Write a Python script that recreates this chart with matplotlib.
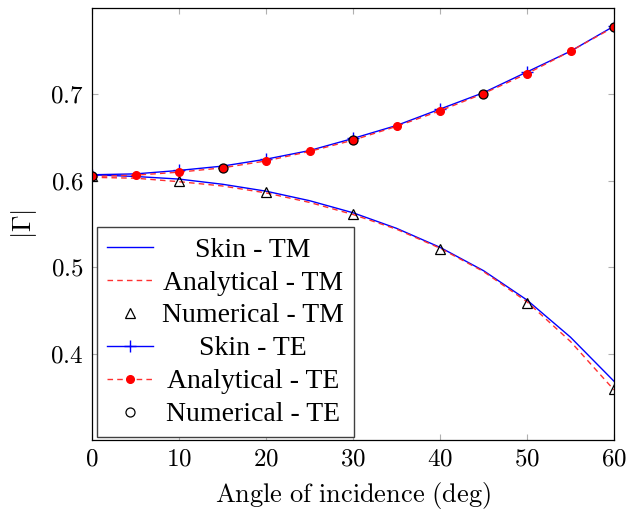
import numpy as np
import matplotlib
matplotlib.use('Agg')
from matplotlib import pyplot as plt

plt.rcParams['font.family'] = ['Liberation Serif', 'DejaVu Serif']
plt.rcParams['mathtext.fontset'] = 'cm'

# angles of incidence (deg)
ang = [0, 5, 10, 15, 20, 25, 30, 35, 40, 45, 50, 55, 60]
ang_num_tm = [0, 10, 20, 30, 40, 50, 60]
ang_num_te = [0, 15, 30, 45, 60]

skin_tm = [0.607, 0.605, 0.602, 0.596, 0.588, 0.577, 0.563, 0.545, 0.523, 0.496, 0.462, 0.419, 0.368]
anal_tm = [0.604, 0.603, 0.599, 0.594, 0.586, 0.575, 0.561, 0.544, 0.522, 0.495, 0.460, 0.414, 0.358]
num_tm = [0.605, 0.600, 0.587, 0.562, 0.521, 0.459, 0.359]

skin_te = [0.607, 0.608, 0.612, 0.617, 0.625, 0.635, 0.649, 0.664, 0.683, 0.702, 0.726, 0.750, 0.779]
anal_te = [0.605, 0.6065, 0.610, 0.615, 0.623, 0.634, 0.647, 0.663, 0.681, 0.701, 0.724, 0.750, 0.778]
num_te = [0.605, 0.615, 0.647, 0.701, 0.778]

fig = plt.figure(figsize=(6.29, 5.12), dpi=100)
ax = fig.add_axes([92/629, 1-440/512, 522/629, 432/512])

ax.plot(ang, skin_tm, color='blue', lw=1, label='Skin - TM')
ax.plot(ang, anal_tm, color='#ff3030', lw=1, ls=(0, (4, 3)), label='Analytical - TM')
ax.plot(ang_num_tm, num_tm, ls='none', marker='^', ms=7, mfc='none', mec='black',
        mew=0.9, label='Numerical - TM')
ax.plot(ang, skin_te, color='blue', lw=1, marker='+', ms=9, mew=1, markevery=2,
        label='Skin - TE')
ax.plot(ang, anal_te, color='#ff3030', lw=1, ls=(0, (4, 3)), marker='o', ms=5.5,
        mfc='red', mec='red', label='Analytical - TE')
ax.plot(ang_num_te, num_te, ls='none', marker='o', ms=6.5, mfc='none', mec='black',
        mew=0.9, label='Numerical - TE')

ax.set_xlim(0, 60)
ax.set_ylim(0.3, 0.8)
ax.set_xticks([0, 10, 20, 30, 40, 50, 60])
ax.set_xticklabels(['$%d$' % v for v in [0, 10, 20, 30, 40, 50, 60]])
ax.set_yticks([0.4, 0.5, 0.6, 0.7])
ax.set_yticklabels(['$%.1f$' % v for v in [0.4, 0.5, 0.6, 0.7]])
ax.tick_params(direction='in', length=4, color='#b0b0b0', labelsize=18,
               top=True, right=True, pad=6)
for s in ax.spines.values():
    s.set_linewidth(0.9)
ax.set_xlabel(r'$\mathrm{Angle\ of\ incidence\ (deg)}$', fontsize=19, labelpad=7)
ax.set_ylabel(r'$|\Gamma|$', fontsize=19, labelpad=8)

leg = ax.legend(loc='lower left', bbox_to_anchor=(5/522, 3/432), borderaxespad=0,
                fontsize=20, fancybox=False, edgecolor='#404040', framealpha=1,
                handlelength=1.65, handletextpad=0.35, labelspacing=0.27,
                borderpad=0.35)
leg.get_frame().set_linewidth(1)

# centre the legend texts like pgfplots does
fig.canvas.draw()
r = fig.canvas.get_renderer()
widths = [t.get_window_extent(r).width for t in leg.get_texts()]
for t, w in zip(leg.get_texts(), widths):
    t.set_position(((max(widths) - w) / 2, 0))

fig.savefig('out.png', dpi=100)
